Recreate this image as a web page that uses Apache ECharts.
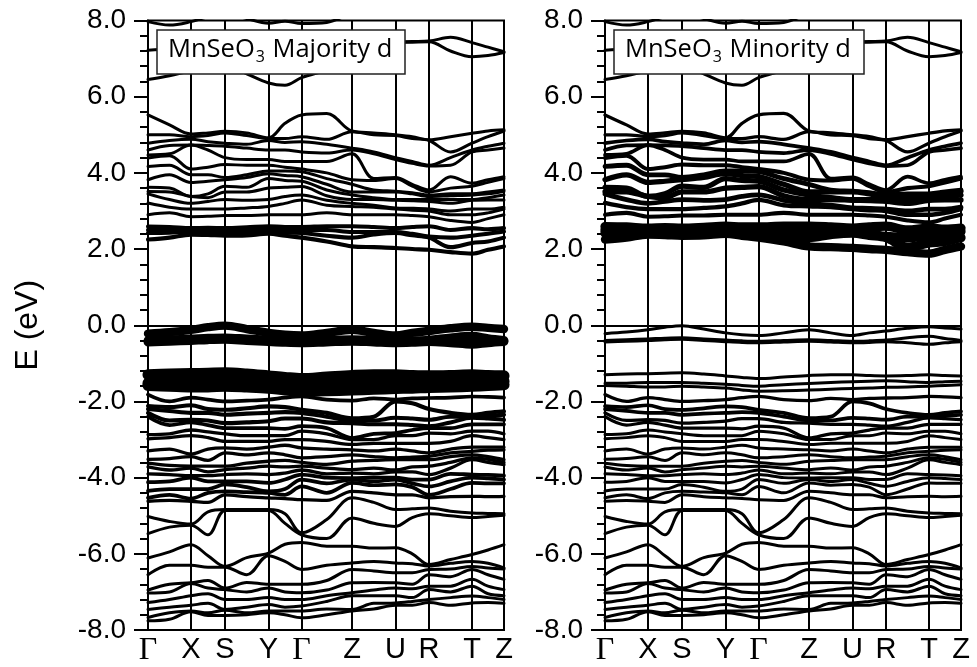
<!DOCTYPE html>
<html><head><meta charset="utf-8">
<script src="https://cdn.jsdelivr.net/npm/echarts@6/dist/echarts.min.js"></script>
<style>html,body{margin:0;padding:0;background:#fff}#c{width:977px;height:667px}</style>
</head><body><div id="c"></div>
<script>
// ---- k-path (arbitrary path-length units) ----
const kLabels = ['Γ','X','S','Y','Γ','Z','U','R','T','Z'];
const kHighSym = [0, 43, 77, 120.5, 153.5, 204, 247.5, 281, 324, 356];
const kPath = [0, 21.5, 43, 60, 77, 98.75, 120.5, 137, 153.5, 178.75, 204, 225.75, 247.5, 264.25, 281, 302.5, 324, 340, 356];
const energyTicks = [-8, -6, -4, -2, 0, 2, 4, 6, 8];

// ---- bands above 6 eV (one row per band, values at kPath) ----
const bandHigh1 = [6.45, 6.55, 6.68, 6.8, 6.85, 6.6, 6.36, 6.3, 6.5, 6.7, 6.95, 7.2, 7.42, 7.43, 7.44, 7.2, 7.05, 7.08, 7.16];
const bandHigh2 = [7.22, 7.25, 7.3, 7.35, 7.4, 7.3, 7.15, 7.1, 7.2, 7.3, 7.38, 7.42, 7.44, 7.45, 7.46, 7.56, 7.42, 7.3, 7.18];
const bandHigh3 = [7.97, 7.88, 7.97, 8.1, 8.2, 8.05, 7.93, 7.98, 7.92, 7.95, 8.2, 8.4, 8.4, 8.4, 8.4, 8.4, 8.4, 8.4, 8.4];

// ---- Mn-d bands near the gap (rows) ----
const bandV1 = [-0.22, -0.18, -0.12, -0.05, -0.01, -0.1, -0.2, -0.25, -0.27, -0.2, -0.12, -0.2, -0.27, -0.2, -0.15, -0.08, -0.04, -0.07, -0.1];
const bandV3 = [-0.4, -0.38, -0.36, -0.34, -0.33, -0.36, -0.39, -0.41, -0.42, -0.4, -0.38, -0.4, -0.42, -0.41, -0.39, -0.33, -0.29, -0.35, -0.4];
const bandV2 = [-0.44, -0.42, -0.4, -0.38, -0.37, -0.4, -0.43, -0.45, -0.46, -0.44, -0.42, -0.44, -0.46, -0.45, -0.43, -0.46, -0.5, -0.46, -0.43];
const bandV4 = [-1.3, -1.28, -1.27, -1.26, -1.25, -1.28, -1.33, -1.37, -1.4, -1.36, -1.32, -1.3, -1.3, -1.32, -1.33, -1.32, -1.3, -1.32, -1.33];
const bandV5 = [-1.52, -1.52, -1.5, -1.5, -1.5, -1.52, -1.55, -1.58, -1.6, -1.56, -1.53, -1.5, -1.48, -1.47, -1.46, -1.48, -1.5, -1.48, -1.47];
const bandV6 = [-1.58, -1.6, -1.62, -1.62, -1.6, -1.62, -1.65, -1.7, -1.73, -1.72, -1.7, -1.68, -1.66, -1.65, -1.63, -1.62, -1.6, -1.58, -1.56];

// ---- conduction eigenvalues 1.8-5.6 eV, one column per kPath point ----
const conductionByK = [
 [5.52, 5.0, 4.78, 4.6, 4.47, 4.39, 4.17, 3.82, 3.62, 3.51, 3.45, 3.21, 2.9, 2.59, 2.5, 2.42, 2.25],
 [5.26, 5.0, 4.85, 4.72, 4.5, 4.45, 4.2, 3.95, 3.6, 3.5, 3.3, 3.1, 2.95, 2.58, 2.5, 2.43, 2.3],
 [5.02, 4.95, 4.88, 4.73, 4.73, 4.1, 3.95, 3.75, 3.38, 3.38, 3.2, 3.05, 2.85, 2.55, 2.5, 2.45, 2.38],
 [5.05, 4.98, 4.82, 4.72, 4.6, 4.15, 3.95, 3.78, 3.45, 3.35, 3.25, 3.05, 2.86, 2.56, 2.5, 2.44, 2.37],
 [5.09, 5.05, 4.78, 4.7, 4.4, 4.22, 3.88, 3.82, 3.65, 3.5, 3.3, 3.05, 2.88, 2.55, 2.5, 2.45, 2.35],
 [5.05, 4.98, 4.75, 4.65, 4.35, 4.2, 3.95, 3.88, 3.62, 3.5, 3.28, 3.08, 2.88, 2.57, 2.5, 2.44, 2.36],
 [4.92, 4.9, 4.85, 4.6, 4.35, 4.2, 4.05, 3.98, 3.85, 3.6, 3.3, 3.12, 2.9, 2.6, 2.52, 2.45, 2.4],
 [5.3, 4.9, 4.8, 4.6, 4.3, 4.15, 4.05, 3.93, 3.8, 3.62, 3.38, 3.2, 2.9, 2.58, 2.5, 2.43, 2.35],
 [5.52, 4.95, 4.82, 4.55, 4.3, 4.1, 4.03, 3.9, 3.78, 3.64, 3.42, 3.29, 2.9, 2.58, 2.5, 2.42, 2.3],
 [5.56, 4.88, 4.75, 4.52, 4.3, 4.0, 3.85, 3.7, 3.55, 3.4, 3.28, 3.15, 2.95, 2.6, 2.5, 2.35, 2.2],
 [5.1, 5.08, 4.65, 4.6, 4.5, 3.82, 3.7, 3.5, 3.42, 3.3, 3.2, 3.12, 2.9, 2.6, 2.45, 2.3, 2.07],
 [5.05, 5.0, 4.55, 4.5, 3.85, 3.8, 3.55, 3.5, 3.35, 3.3, 3.15, 3.1, 2.9, 2.58, 2.45, 2.38, 2.05],
 [5.0, 4.98, 4.4, 4.35, 3.88, 3.85, 3.52, 3.5, 3.3, 3.28, 3.08, 3.05, 2.9, 2.55, 2.45, 2.42, 2.03],
 [4.95, 4.9, 4.3, 4.25, 3.7, 3.65, 3.48, 3.45, 3.3, 3.27, 3.07, 3.02, 2.88, 2.58, 2.4, 2.36, 2.0],
 [4.87, 4.85, 4.2, 4.18, 3.55, 3.5, 3.42, 3.38, 3.3, 3.25, 3.05, 3.0, 2.85, 2.6, 2.33, 2.3, 1.98],
 [4.95, 4.55, 4.4, 4.2, 3.9, 3.6, 3.45, 3.4, 3.3, 3.2, 3.0, 2.9, 2.75, 2.5, 2.3, 2.05, 1.92],
 [5.04, 4.78, 4.6, 4.55, 3.73, 3.65, 3.45, 3.42, 3.3, 3.28, 3.05, 2.9, 2.7, 2.55, 2.35, 2.16, 1.88],
 [5.1, 4.95, 4.7, 4.6, 3.82, 3.75, 3.5, 3.45, 3.35, 3.29, 3.05, 2.95, 2.8, 2.52, 2.4, 2.2, 1.98],
 [5.13, 5.1, 4.78, 4.65, 3.9, 3.85, 3.55, 3.52, 3.42, 3.29, 3.1, 3.05, 2.9, 2.55, 2.46, 2.3, 2.07]
];

// ---- valence eigenvalues -1.8 to -8 eV, one column per kPath point ----
const valenceByK = [
 [-1.82, -2.12, -2.2, -2.3, -2.4, -2.87, -2.98, -3.3, -3.52, -3.62, -3.72, -3.9, -4.12, -4.35, -4.53, -4.62, -5.02, -5.47, -6.11, -6.55, -6.95, -7.03, -7.28, -7.46, -7.67, -7.76],
 [-2.0, -2.15, -2.25, -2.5, -2.62, -2.85, -2.95, -3.25, -3.5, -3.68, -3.8, -3.92, -4.1, -4.3, -4.45, -4.6, -5.15, -5.3, -5.95, -6.3, -6.8, -7.0, -7.2, -7.4, -7.55, -7.72],
 [-1.9, -2.1, -2.3, -2.48, -2.55, -2.75, -2.9, -3.38, -3.45, -3.7, -3.75, -3.95, -4.0, -4.3, -4.55, -4.62, -5.22, -5.25, -5.76, -6.3, -6.76, -6.78, -7.1, -7.35, -7.5, -7.52],
 [-1.95, -2.2, -2.3, -2.5, -2.62, -2.8, -2.95, -3.25, -3.55, -3.7, -3.85, -3.95, -4.1, -4.3, -4.4, -4.65, -4.9, -5.5, -6.05, -6.35, -6.7, -6.9, -7.05, -7.3, -7.55, -7.62],
 [-2.0, -2.22, -2.35, -2.57, -2.7, -2.85, -3.05, -3.22, -3.35, -3.7, -3.79, -3.92, -4.1, -4.18, -4.36, -4.45, -4.84, -4.86, -6.33, -6.35, -6.9, -6.94, -7.2, -7.46, -7.48, -7.62],
 [-1.98, -2.18, -2.32, -2.55, -2.7, -2.9, -3.05, -3.25, -3.4, -3.62, -3.75, -3.9, -4.1, -4.25, -4.38, -4.5, -4.84, -4.86, -6.1, -6.55, -6.75, -7.0, -7.2, -7.4, -7.55, -7.6],
 [-1.95, -2.13, -2.3, -2.52, -2.7, -2.9, -3.05, -3.2, -3.35, -3.57, -3.7, -3.92, -4.14, -4.36, -4.4, -4.53, -4.84, -4.86, -5.98, -6.05, -6.8, -6.9, -7.15, -7.33, -7.5, -7.55],
 [-1.9, -2.15, -2.28, -2.45, -2.72, -2.9, -3.0, -3.15, -3.4, -3.55, -3.72, -3.88, -4.05, -4.3, -4.45, -4.55, -4.95, -5.2, -5.75, -6.2, -6.8, -7.0, -7.2, -7.4, -7.5, -7.6],
 [-1.87, -2.22, -2.3, -2.45, -2.65, -2.78, -3.0, -3.22, -3.48, -3.6, -3.7, -3.8, -3.92, -4.05, -4.23, -4.58, -5.45, -5.5, -5.7, -6.41, -6.8, -7.02, -7.2, -7.37, -7.5, -7.68],
 [-1.95, -2.3, -2.4, -2.55, -2.7, -2.85, -3.05, -3.25, -3.45, -3.65, -3.75, -3.9, -4.0, -4.15, -4.4, -4.6, -5.1, -5.6, -5.8, -6.3, -6.7, -6.95, -7.1, -7.25, -7.45, -7.6],
 [-1.98, -2.44, -2.5, -2.57, -2.96, -3.0, -3.13, -3.27, -3.4, -3.57, -3.79, -3.88, -4.01, -4.05, -4.14, -4.36, -4.53, -5.06, -5.8, -6.24, -6.41, -6.76, -7.02, -7.1, -7.46, -7.5],
 [-1.92, -2.4, -2.5, -2.6, -2.85, -3.0, -3.1, -3.3, -3.45, -3.55, -3.75, -3.9, -4.0, -4.1, -4.2, -4.4, -4.65, -5.2, -5.85, -6.2, -6.45, -6.75, -6.95, -7.1, -7.3, -7.45],
 [-1.95, -2.0, -2.43, -2.6, -2.83, -2.9, -3.1, -3.25, -3.48, -3.53, -3.8, -3.85, -4.0, -4.05, -4.18, -4.45, -4.84, -5.28, -5.84, -6.24, -6.5, -6.76, -6.9, -7.1, -7.29, -7.35],
 [-1.92, -2.05, -2.45, -2.62, -2.75, -2.9, -3.1, -3.3, -3.46, -3.53, -3.72, -3.85, -4.05, -4.15, -4.25, -4.45, -4.82, -5.05, -6.0, -6.26, -6.5, -6.8, -6.92, -7.15, -7.25, -7.35],
 [-1.91, -2.2, -2.48, -2.65, -2.7, -2.83, -3.1, -3.35, -3.44, -3.53, -3.7, -3.92, -4.05, -4.23, -4.45, -4.53, -4.8, -4.95, -6.28, -6.32, -6.41, -6.55, -6.85, -6.94, -7.2, -7.28],
 [-1.9, -2.3, -2.4, -2.55, -2.7, -2.85, -3.05, -3.25, -3.35, -3.45, -3.6, -3.75, -3.9, -4.1, -4.3, -4.5, -4.88, -5.0, -6.15, -6.25, -6.4, -6.6, -6.85, -7.0, -7.15, -7.35],
 [-1.87, -2.35, -2.4, -2.43, -2.6, -2.78, -2.9, -3.2, -3.31, -3.4, -3.48, -3.53, -3.92, -4.0, -4.14, -4.49, -4.93, -5.05, -6.02, -6.2, -6.33, -6.41, -6.67, -6.85, -7.11, -7.29],
 [-1.88, -2.3, -2.38, -2.45, -2.6, -2.78, -2.95, -3.2, -3.28, -3.45, -3.52, -3.6, -3.93, -4.02, -4.15, -4.5, -4.94, -5.02, -5.9, -6.25, -6.37, -6.55, -6.85, -7.05, -7.15, -7.28],
 [-1.9, -2.26, -2.35, -2.48, -2.6, -2.85, -3.0, -3.2, -3.27, -3.53, -3.6, -3.66, -3.95, -4.05, -4.15, -4.49, -4.95, -4.99, -5.76, -6.37, -6.4, -6.67, -6.94, -7.1, -7.2, -7.3]
];

// ---- projected Mn-d weight per band (0..1) for each spin channel ----
const dWeightHighMaj = [0, 0, 0];
const dWeightHighMin = [0, 0, 0];
const dWeightGapMaj = [0.6, 0.65, 0.65, 0.9, 0.9, 0.9];
const dWeightGapMin = [0, 0, 0, 0, 0, 0];
const dWeightCondMaj = [0, 0, 0, 0, 0, 0, 0, 0, 0, 0, 0, 0, 0, 0.12, 0.12, 0.12, 0.12];
const dWeightCondMin = [0.03, 0.03, 0.08, 0.08, 0.08, 0.12, 0.2, 0.25, 0.25, 0.25, 0.2, 0.15, 0.12, 0.7, 0.7, 0.7, 0.6];
const dWeightValMaj = [0.08, 0.12, 0.12, 0.12, 0.08, 0.03, 0.03, 0.03, 0.03, 0.03, 0.03, 0.03, 0.08, 0.08, 0.08, 0.03, 0, 0, 0, 0, 0, 0, 0, 0, 0, 0];
const dWeightValMin = [0.03, 0.08, 0.08, 0.03, 0.03, 0, 0, 0, 0, 0, 0, 0, 0, 0, 0, 0, 0, 0, 0, 0, 0, 0, 0, 0, 0, 0];

const panelTitles = ['MnSeO{s|3} Majority d', 'MnSeO{s|3} Minority d'];

// ---------------------------------------------------------------
const highRows = [bandHigh1, bandHigh2, bandHigh3];
const gapRows = [bandV1, bandV3, bandV2, bandV4, bandV5, bandV6];
function columnsToRows(cols) {
  const n = cols[0].length, rows = [];
  for (let i = 0; i < n; i++) rows.push(cols.map(c => c[i]));
  return rows;
}
const condRows = columnsToRows(conductionByK);
const valRows = columnsToRows(valenceByK);

const AX = 'Liberation Sans, Arial, sans-serif';
const gridsPx = [{left: 148, width: 356}, {left: 605, width: 356}];

function bandSeries(rows, weights, gi) {
  return rows.map((r, i) => ({
    type: 'line', xAxisIndex: gi, yAxisIndex: gi,
    data: r.map((e, j) => [kPath[j], e]),
    showSymbol: false, smooth: 0.35, silent: true, clip: true,
    lineStyle: {color: '#000', width: 3 + 9 * weights[i], cap: 'round', join: 'round'},
    z: 3
  }));
}

const grids = [], xAxes = [], yAxes = [], series = [], titles = [];
[0, 1].forEach(gi => {
  grids.push({left: gridsPx[gi].left, width: gridsPx[gi].width, top: 20.5, bottom: 36.5,
    show: true, borderColor: '#000', borderWidth: 2, backgroundColor: 'transparent'});
  xAxes.push({
    type: 'value', gridIndex: gi, min: 0, max: 356,
    axisLine: {show: true, lineStyle: {color: '#000', width: 2}},
    axisTick: {show: false}, splitLine: {show: false},
    axisLabel: {
      customValues: kHighSym, margin: 5, color: '#000', fontFamily: AX, fontSize: 29,
      formatter: v => { const t = kLabels[kHighSym.indexOf(v)]; return t === 'Γ' ? '{g|Γ}' : t; },
      rich: {g: {fontFamily: 'Liberation Serif, Times New Roman, serif', fontSize: 32, color: '#000'}}
    }
  });
  yAxes.push({
    type: 'value', gridIndex: gi, min: -8, max: 8, interval: 2,
    name: gi === 0 ? 'E (eV)' : '', nameLocation: 'middle', nameGap: 104,
    nameTextStyle: {fontFamily: AX, fontSize: 32, color: '#000'},
    axisLine: {show: true, lineStyle: {color: '#000', width: 2}},
    axisTick: {show: true, inside: false, length: 14, lineStyle: {color: '#000', width: 2}},
    minorTick: {show: true, splitNumber: 5, length: 8, lineStyle: {color: '#000', width: 2}},
    splitLine: {show: false}, minorSplitLine: {show: false},
    axisLabel: {margin: 22, color: '#000', fontFamily: AX, fontSize: 28,
      formatter: v => energyTicks.includes(v) ? v.toFixed(1) : ''}
  });
  const maj = gi === 0;
  series.push(...bandSeries(highRows, maj ? dWeightHighMaj : dWeightHighMin, gi));
  series.push(...bandSeries(condRows, maj ? dWeightCondMaj : dWeightCondMin, gi));
  series.push(...bandSeries(gapRows, maj ? dWeightGapMaj : dWeightGapMin, gi));
  series.push(...bandSeries(valRows, maj ? dWeightValMaj : dWeightValMin, gi));
  series.push({
    type: 'line', xAxisIndex: gi, yAxisIndex: gi, data: [], silent: true,
    markLine: {silent: true, symbol: ['none', 'none'], label: {show: false},
      lineStyle: {color: '#000', width: 2, type: 'solid'},
      data: kHighSym.slice(1, -1).map(k => ({xAxis: k}))},
    z: 2
  });
  titles.push({
    text: panelTitles[gi], left: gi === 0 ? 157 : 614, top: 27,
    borderColor: '#222', borderWidth: 1.5, backgroundColor: '#fff',
    padding: [7, 13, 9, 11], z: 10,
    textStyle: {fontFamily: 'Open Sans, sans-serif', fontSize: 25.5, fontWeight: 'normal', color: '#000',
      rich: {s: {fontFamily: 'Open Sans, sans-serif', fontSize: 16, color: '#000', padding: [15, 1, 0, 1]}}}
  });
});

const chart = echarts.init(document.getElementById('c'), null, {renderer: 'canvas'});
chart.setOption({animation: false, backgroundColor: '#fff', title: titles,
  grid: grids, xAxis: xAxes, yAxis: yAxes, series: series});
</script></body></html>
